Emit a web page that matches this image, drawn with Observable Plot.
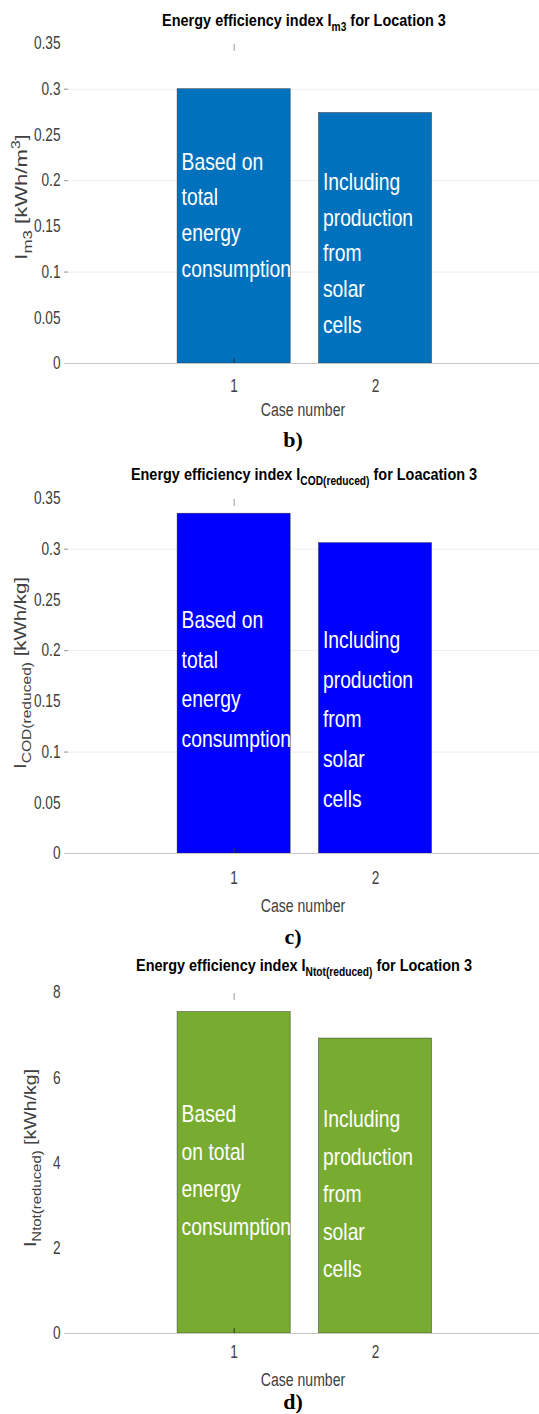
<!DOCTYPE html>
<html>
<head>
<meta charset="utf-8">
<script src="https://cdn.jsdelivr.net/npm/d3@7"></script>
<script src="https://cdn.jsdelivr.net/npm/@observablehq/plot@0.6"></script>
<style>
  body { margin: 0; background: #fff; width: 539px; height: 1414px; overflow: hidden; }
  .panel { position: relative; width: 539px; }
  .panel svg { display: block; position: absolute; left: 0; top: 0; overflow: visible; }
  .ov { position: absolute; white-space: nowrap; line-height: 1; }
  .title { font-family: "Liberation Sans", Arial, sans-serif; font-weight: bold; font-size: 17px; color: #000; transform: translate(-50%, -50%) scaleX(0.85); }
  .title sub { font-size: 12px; line-height: 0; vertical-align: -5px; }
  .xlabel { font-family: "Liberation Sans", Arial, sans-serif; font-size: 18px; color: #404040; transform: translate(-50%, -50%) scaleX(0.78); }
  .caption { font-family: "Liberation Serif", "Times New Roman", serif; font-weight: bold; font-size: 22px; color: #000; transform: translate(-50%, -50%); }
</style>
</head>
<body>
<div id="root"></div>
<script>
// Case numbers on the x axis
const cases = [1, 2];

// Energy efficiency index values per case
const im3Values = [0.300, 0.274];      // kWh/m3
const codValues = [0.335, 0.306];      // kWh/kg COD(reduced)
const ntotValues = [7.54, 6.92];       // kWh/kg Ntot(reduced)

// In-bar annotations
const labelsBC = ["Based on\ntotal\nenergy\nconsumption", "Including\nproduction\nfrom\nsolar\ncells"];
const labelsD = ["Based\non total\nenergy\nconsumption", "Including\nproduction\nfrom\nsolar\ncells"];

// Tick values
const ticksBC = [0, 0.05, 0.1, 0.15, 0.2, 0.25, 0.3, 0.35];
const gridBC = [0.1, 0.2, 0.3];
const ticksD = [0, 2, 4, 6, 8];

const FONT = '"Liberation Sans", Arial, sans-serif';
const W = 539;
const X_DOMAIN = [-0.2, 3.16];
const BAR_WIDTH = 0.8;
const ML = 64;

// squeeze a text element horizontally around its own anchor point
function squeeze(t, s) {
  const x = +t.getAttribute("x") || 0, y = +t.getAttribute("y") || 0;
  const tr = t.getAttribute("transform") || "";
  t.setAttribute("transform", `${tr} translate(${x},${y}) scale(${s},1) translate(${-x},${-y})`);
}

function makePanel(cfg) {
  const rows = cases.map((c, i) => ({case: c, value: cfg.values[i], label: cfg.labels[i], ly: cfg.labelY[i]}));
  const plot = Plot.plot({
    width: W,
    height: cfg.height,
    marginLeft: ML,
    marginRight: 0,
    marginTop: cfg.marginTop,
    marginBottom: cfg.height - cfg.zeroY,
    style: {fontFamily: FONT, background: "transparent", overflow: "visible"},
    x: {domain: X_DOMAIN, axis: null},
    y: {domain: cfg.yDomain, axis: null},
    marks: [
      Plot.gridY(cfg.grid, {stroke: "#000", strokeOpacity: 0.07}),
      Plot.axisY(cfg.grid, {tickSize: -4, tickFormat: () => "", stroke: "#999", label: null}),
      Plot.axisY(cfg.ticks, {tickSize: 0, tickPadding: 4, fontSize: 18, color: "#404040", label: null, tickFormat: d => String(d)}),
      Plot.rectY(rows, {
        x1: d => d.case - BAR_WIDTH / 2,
        x2: d => d.case + BAR_WIDTH / 2,
        y: "value",
        fill: cfg.color,
        stroke: "#222",
        strokeWidth: 0.6,
        strokeOpacity: 0.7
      }),
      Plot.ruleY([0], {stroke: "#c8c8c8", strokeWidth: 1.2}),
      Plot.axisX([1], {anchor: "top", tickSize: -7, tickFormat: () => "", stroke: "#999", label: null}),
      Plot.axisX([1], {anchor: "bottom", tickSize: -5, tickFormat: () => "", stroke: "#333", label: null}),
      Plot.axisX(cases, {anchor: "bottom", tickSize: 0, tickPadding: cfg.tickPad, fontSize: 18, color: "#404040", label: null, tickFormat: d => String(d)}),
      Plot.text(rows, {
        x: d => d.case - BAR_WIDTH / 2,
        y: "ly",
        text: "label",
        dx: 4,
        textAnchor: "start",
        lineAnchor: "top",
        lineHeight: cfg.lineHeight,
        fill: "white",
        fontSize: 23,
        fontFamily: FONT
      })
    ]
  });

  // narrow letterforms: in-bar notes and tick labels
  d3.select(plot).selectAll('g[aria-label="text"] text').each(function () { squeeze(this, 0.84); });
  d3.select(plot).selectAll('g[aria-label$="tick label"] text').each(function () { squeeze(this, 0.76); });

  const div = document.createElement("div");
  div.className = "panel";
  div.style.height = cfg.height + "px";
  div.appendChild(plot);

  // rotated y-axis title with sub/superscripts
  const svg = d3.select(plot);
  const t = svg.append("text")
    .attr("transform", `translate(${cfg.yLabel.x},${cfg.yLabel.y}) rotate(-90) scale(${cfg.yLabel.stretch},1)`)
    .attr("text-anchor", "middle")
    .attr("fill", "#404040")
    .style("font-family", FONT)
    .style("font-size", "17px");
  for (const part of cfg.yLabel.parts) {
    const s = t.append("tspan").text(part.t);
    if (part.sub) s.attr("dy", 5).style("font-size", "13px");
    if (part.sup) s.attr("dy", -7).style("font-size", "12px");
    if (part.back) s.attr("dy", part.back);
  }

  const add = (cls, html, cx, cy) => {
    const e = document.createElement("div");
    e.className = "ov " + cls;
    e.innerHTML = html;
    e.style.left = cx + "px";
    e.style.top = cy + "px";
    div.appendChild(e);
  };
  add("title", cfg.title, 304, cfg.titleY);
  add("xlabel", "Case number", 303, cfg.xLabelY);
  add("caption", cfg.caption, 293, cfg.captionY);
  document.getElementById("root").appendChild(div);
}

makePanel({
  values: im3Values, color: "#0072BD", yDomain: [0, 0.35], ticks: ticksBC, grid: gridBC,
  labels: labelsBC, labelY: [0.240, 0.218], lineHeight: 1.56,
  height: 458, marginTop: 43, zeroY: 363, tickPad: 16,
  title: "Energy efficiency index I<sub>m3</sub> for Location 3", titleY: 20,
  xLabelY: 410, caption: "b)", captionY: 440,
  yLabel: {x: 27, y: 197, stretch: 1.3, parts: [{t: "I"}, {t: "m3", sub: true}, {t: " [kWh/m", back: -5}, {t: "3", sup: true}, {t: "]", back: 7}]}
});

makePanel({
  values: codValues, color: "#0000FF", yDomain: [0, 0.35], ticks: ticksBC, grid: gridBC,
  labels: labelsBC, labelY: [0.250, 0.230], lineHeight: 1.72,
  height: 492, marginTop: 40, zeroY: 395, tickPad: 18,
  title: "Energy efficiency index I<sub>COD(reduced)</sub> for Loacation 3", titleY: 16,
  xLabelY: 448, caption: "c)", captionY: 479,
  yLabel: {x: 26, y: 215, stretch: 1.2, parts: [{t: "I"}, {t: "COD(reduced)", sub: true}, {t: " [kWh/kg]", back: -5}]}
});

makePanel({
  values: ntotValues, color: "#77AC30", yDomain: [0, 8], ticks: ticksD, grid: [],
  labels: labelsD, labelY: [5.585, 5.465], lineHeight: 1.63,
  height: 464, marginTop: 42, zeroY: 383, tickPad: 12,
  title: "Energy efficiency index I<sub>Ntot(reduced)</sub> for Location 3", titleY: 15,
  xLabelY: 430, caption: "d)", captionY: 452,
  yLabel: {x: 36, y: 208, stretch: 1.15, parts: [{t: "I"}, {t: "Ntot(reduced)", sub: true}, {t: " [kWh/kg]", back: -5}]}
});
</script>
</body>
</html>
